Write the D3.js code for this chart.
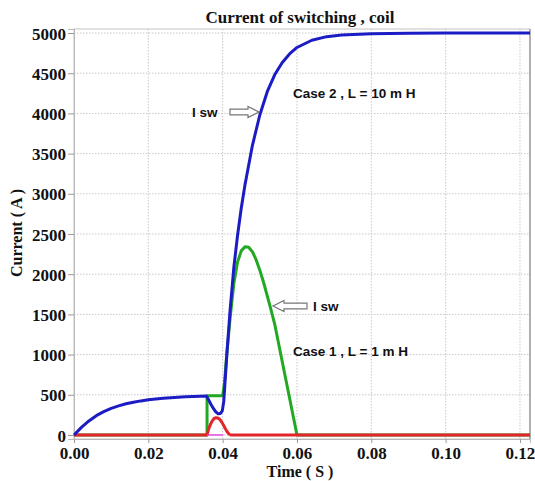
<!DOCTYPE html>
<html>
<head>
<meta charset="utf-8">
<script src="https://cdn.jsdelivr.net/npm/d3@7"></script>
<style>
  body { margin: 0; background: #fff; }
  svg text { fill: #111; }
</style>
</head>
<body>
<div id="chart"></div>
<script>
// tick values
const xTicks = [0, 0.02, 0.04, 0.06, 0.08, 0.10, 0.12];
const yTicks = [0, 500, 1000, 1500, 2000, 2500, 3000, 3500, 4000, 4500, 5000];

// Case 2, L = 10 mH  (blue)
const blueT = [0, 0.002, 0.004, 0.006, 0.008, 0.010, 0.012, 0.014, 0.016, 0.018, 0.020, 0.022, 0.024, 0.026, 0.028, 0.030, 0.032, 0.034, 0.0356,
  0.0362, 0.0368, 0.0375, 0.0382, 0.0388, 0.0394, 0.0399, 0.0403, 0.0407, 0.0412, 0.042, 0.043, 0.044, 0.045, 0.046, 0.048, 0.050, 0.052, 0.054,
  0.056, 0.058, 0.060, 0.064, 0.068, 0.072, 0.080, 0.090, 0.100, 0.1227];
const blueI = [0, 95, 175, 240, 290, 330, 362, 388, 408, 424, 437, 448, 457, 464, 470, 475, 479, 482, 484,
  440, 385, 330, 285, 265, 268, 300, 420, 700, 1050, 1550, 2080, 2480, 2820, 3110, 3600, 3980, 4270, 4480,
  4630, 4740, 4820, 4910, 4955, 4975, 4992, 4998, 5000, 5000];

// Case 1, L = 1 mH  (green)
const greenT = [0, 0.0358, 0.0358, 0.0400, 0.0405, 0.041, 0.042, 0.043, 0.044, 0.045, 0.046, 0.047, 0.048, 0.049, 0.050, 0.051,
  0.052, 0.053, 0.054, 0.055, 0.056, 0.057, 0.058, 0.059, 0.060, 0.1227];
const greenI = [0, 0, 488, 488, 650, 950, 1450, 1880, 2150, 2290, 2340, 2335, 2280, 2180, 2050, 1900,
  1730, 1560, 1380, 1150, 920, 690, 460, 230, 0, 0];

// red
const redT = [0, 0.0358, 0.0362, 0.0367, 0.0372, 0.0377, 0.0382, 0.0387, 0.0392, 0.0397, 0.0402, 0.0407, 0.0412, 0.0417, 0.0422, 0.1227];
const redI = [0, 0, 70, 130, 175, 205, 215, 212, 195, 165, 125, 80, 40, 12, 0, 0];

// magenta
const magT = [0.0358, 0.0402];
const magI = [0, 0];

const W = 535, H = 481;
const margin = { top: 29, right: 5, bottom: 42, left: 74 };
const width = W - margin.left - margin.right;
const height = H - margin.top - margin.bottom;

const svg = d3.select("#chart").append("svg")
  .attr("width", W)
  .attr("height", H);

const g = svg.append("g")
  .attr("transform", `translate(${margin.left},${margin.top})`);

const x = d3.scaleLinear().domain([0, 0.1227]).range([0, width]);
const y = d3.scaleLinear().domain([-50, 5050]).range([height, 0]);

// grid
g.append("g").selectAll("line")
  .data(xTicks.filter(d => d > 0))
  .enter().append("line")
  .attr("x1", d => x(d)).attr("x2", d => x(d))
  .attr("y1", 0).attr("y2", height)
  .attr("stroke", "#c8c8c8")
  .attr("stroke-dasharray", "1.5,1.5");

g.append("g").selectAll("line")
  .data(yTicks)
  .enter().append("line")
  .attr("x1", 0).attr("x2", width)
  .attr("y1", d => y(d)).attr("y2", d => y(d))
  .attr("stroke", "#c8c8c8")
  .attr("stroke-dasharray", "1.5,1.5");

// frame
g.append("rect")
  .attr("x", 0).attr("y", 0)
  .attr("width", width).attr("height", height)
  .attr("fill", "none")
  .attr("stroke", "#c4c4c4")
  .attr("stroke-width", 1);
g.append("line")
  .attr("x1", width).attr("x2", width)
  .attr("y1", 0).attr("y2", height)
  .attr("stroke", "#b0b0b0")
  .attr("stroke-width", 2);

// axes
const xAxis = d3.axisBottom(x).tickValues(xTicks).tickFormat(d3.format(".2f")).tickSize(4).tickPadding(4);
const yAxis = d3.axisLeft(y).tickValues(yTicks).tickFormat(d3.format("d")).tickSize(6).tickPadding(2);

const xg = g.append("g").attr("transform", `translate(0,${height})`).call(xAxis);
const yg = g.append("g").call(yAxis);

[xg, yg].forEach(a => {
  a.select(".domain").attr("stroke", "#b8b8b8");
  a.selectAll(".tick line").attr("stroke", "#999");
  a.selectAll("text")
    .style("font-family", "'Liberation Serif', 'Times New Roman', serif")
    .style("font-weight", "bold")
    .style("font-size", "17px")
    .attr("fill", "#111");
});
yg.selectAll("text").attr("dy", "0.36em");

// lines
const line = d3.line().x(d => x(d[0])).y(d => y(d[1]));
const zip = (t, v) => t.map((d, i) => [d, v[i]]);

function drawSeries(t, v, color, w) {
  g.append("path")
    .datum(zip(t, v))
    .attr("d", line)
    .attr("fill", "none")
    .attr("stroke", color)
    .attr("stroke-width", w)
    .attr("stroke-linejoin", "round");
}

drawSeries(greenT, greenI, "#23a823", 3);
drawSeries(redT, redI, "#e2262a", 3);
drawSeries(magT, magI, "#e84be0", 1.5);
drawSeries(blueT, blueI, "#1c1cc4", 3);

// titles
const serif = "'Liberation Serif', 'Times New Roman', serif";
svg.append("text")
  .attr("x", 300).attr("y", 23)
  .attr("text-anchor", "middle")
  .style("font-family", serif).style("font-weight", "bold").style("font-size", "17px")
  .text("Current of switching , coil");

svg.append("text")
  .attr("x", 300).attr("y", 477)
  .attr("text-anchor", "middle")
  .style("font-family", serif).style("font-weight", "bold").style("font-size", "16px")
  .text("Time ( S )");

svg.append("text")
  .attr("transform", "translate(22,233) rotate(-90)")
  .attr("text-anchor", "middle")
  .style("font-family", serif).style("font-weight", "bold").style("font-size", "16px")
  .text("Current ( A )");

// annotations
const sans = "'Liberation Sans', Arial, sans-serif";
function note(px, py, txt) {
  svg.append("text")
    .attr("x", px).attr("y", py)
    .style("font-family", sans).style("font-weight", "bold").style("font-size", "13.5px")
    .text(txt);
}
note(293, 98, "Case 2 , L = 10 m H");
note(293, 356, "Case 1 , L = 1 m H");
note(192, 117, "I sw");
note(313, 311, "I sw");

// hollow arrows (tail x, tip x, y)
function arrow(x0, x1, yc) {
  const dir = x1 > x0 ? 1 : -1;
  const headLen = 11, bh = 2.8, hh = 5.5;
  const xb = x1 - dir * headLen;
  const pts = [[x0, yc - bh], [xb, yc - bh], [xb, yc - hh], [x1, yc], [xb, yc + hh], [xb, yc + bh], [x0, yc + bh]];
  svg.append("path")
    .attr("d", "M" + pts.map(p => p.join(",")).join("L") + "Z")
    .attr("fill", "#fff")
    .attr("stroke", "#777")
    .attr("stroke-width", 1.2);
}
arrow(230, 259, 112);
arrow(307, 273, 306);
</script>
</body>
</html>
